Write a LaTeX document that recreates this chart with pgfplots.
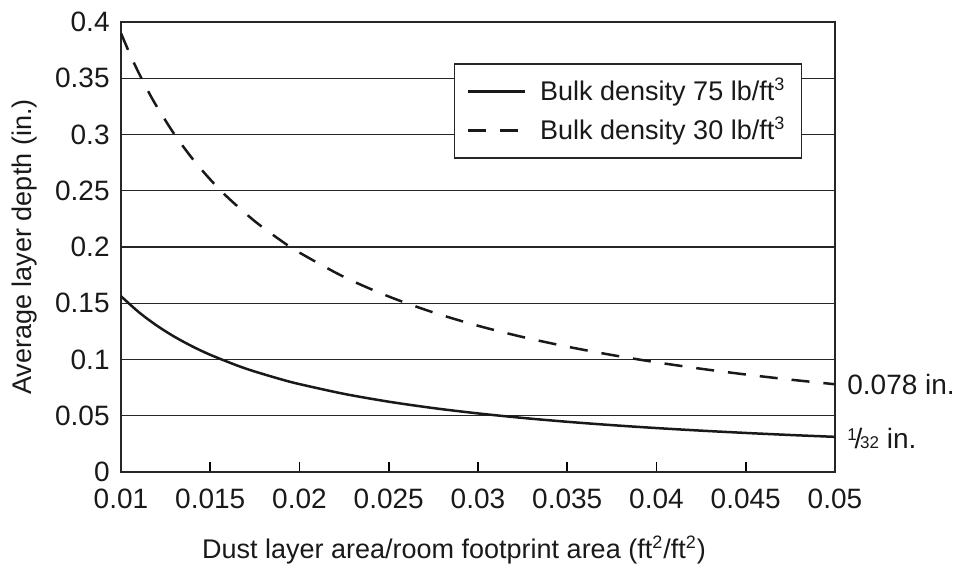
\documentclass[border=0pt]{standalone}
\usepackage{pgfplots}
\pgfplotsset{compat=1.18}
\usepackage{fontspec}
\setmainfont{Liberation Sans}
\begin{document}
\fontsize{13.5}{16}\selectfont
\begin{tikzpicture}
\useasboundingbox (-60.5pt,-45.5pt) rectangle (416.5pt,236pt);
\begin{axis}[
  at={(0,0)}, anchor=south west,
  scale only axis, width=357pt, height=225pt,
  xmin=0.01, xmax=0.05, ymin=0, ymax=0.4,
  xtick={0.01,0.015,0.02,0.025,0.03,0.035,0.04,0.045,0.05},
  xticklabels={0.01,0.015,0.02,0.025,0.03,0.035,0.04,0.045,0.05},
  ytick={0,0.05,0.1,0.15,0.2,0.25,0.3,0.35,0.4},
  yticklabels={0,0.05,0.1,0.15,0.2,0.25,0.3,0.35,0.4},
  scaled x ticks=false, scaled y ticks=false,
  xtick pos=bottom, ytick pos=left,
  xtick align=inside, major tick length=5pt,
  ytick style={draw=none},
  xtick style={line width=0.8pt, black},
  ymajorgrids, grid style={line width=0.6pt, black!85},
  axis line style={line width=1pt, black!85},
  tick label style={font=\fontsize{14}{16}\selectfont, black!90},
  xticklabel style={yshift=-4pt},
  yticklabel style={xshift=-1pt},
  label style={font=\fontsize{13.5}{16}\selectfont, black!90},
  xlabel={Dust layer area/room footprint area (ft\textsuperscript{\fontsize{9}{10}\selectfont 2}/ft\textsuperscript{\fontsize{9}{10}\selectfont 2})},
  ylabel={Average layer depth (in.)},
  xlabel style={yshift=-4pt, xshift=-12pt},
  legend style={at={(0.954,0.909)}, anchor=north east, draw=black!85, line width=0.8pt,
    font=\fontsize{13.5}{16}\selectfont, text=black!90, fill=white,
    inner xsep=6pt, inner ysep=5pt, row sep=2pt},
  legend cell align=left,
  legend image post style={line width=1.3pt},
  legend image code/.code={\draw[#1] (0cm,0cm) -- (1cm,0cm);},
  clip=false,
]
\addplot[smooth, line width=1.25pt, black!90] coordinates {
(0.0100,0.15625) (0.0110,0.14205) (0.0120,0.13021) (0.0130,0.12019) (0.0140,0.11161)
(0.0150,0.10417) (0.0165,0.09470) (0.0175,0.08929) (0.0190,0.08224) (0.0200,0.078125)
(0.0225,0.06944) (0.0250,0.0625) (0.0275,0.05682) (0.0300,0.05208) (0.0325,0.04808)
(0.0350,0.04464) (0.0375,0.04167) (0.0400,0.03906) (0.0425,0.03676) (0.0450,0.03472)
(0.0475,0.03289) (0.0500,0.03125)
};
\addlegendentry{\hspace{5pt}Bulk density 75 lb/ft\textsuperscript{\fontsize{9}{10}\selectfont 3}}
\addplot[smooth, line width=1.25pt, black!90, dash pattern=on 9pt off 7pt] coordinates {
(0.0100,0.39) (0.0105,0.37143) (0.0110,0.35455) (0.0115,0.33913) (0.0120,0.325)
(0.0130,0.3) (0.0140,0.27857) (0.0150,0.26) (0.0160,0.24375) (0.0175,0.22286)
(0.0190,0.20526) (0.0200,0.195) (0.0225,0.17333) (0.0250,0.156) (0.0275,0.14182)
(0.0300,0.13) (0.0325,0.12) (0.0350,0.11143) (0.0375,0.104) (0.0400,0.0975)
(0.0425,0.09176) (0.0450,0.08667) (0.0475,0.08211) (0.0500,0.078)
};
\addlegendentry{\hspace{5pt}Bulk density 30 lb/ft\textsuperscript{\fontsize{9}{10}\selectfont 3}}
\node[anchor=west, text=black!90, inner sep=0pt, font=\fontsize{14}{16}\selectfont] at (axis cs:0.05,0.078) {\hspace{6pt}0.078 in.};
\node[anchor=west, text=black!90, inner sep=0pt, font=\fontsize{14}{16}\selectfont] at (axis cs:0.05,0.0295) {\hspace{6pt}\raisebox{0.55ex}{\fontsize{8.5}{9}\selectfont 1}\kern-0.08em/\kern-0.08em{\fontsize{8.5}{9}\selectfont 32} in.};
\end{axis}
\end{tikzpicture}
\end{document}
